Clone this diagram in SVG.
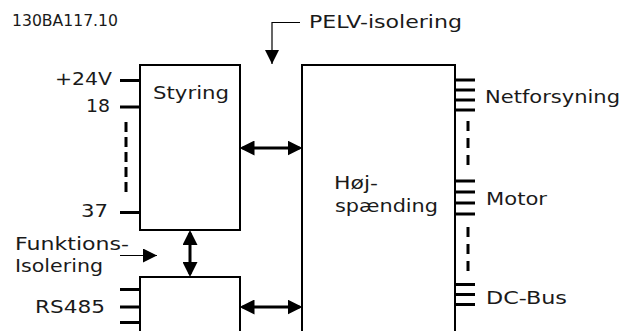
<svg xmlns="http://www.w3.org/2000/svg" width="623" height="331" viewBox="0 0 623 331">
<style>
  text { font-family: "DejaVu Sans", Verdana, sans-serif; font-size: 17px; fill: #1a1a1a; }
  .small { font-size: 15px; }
  .box { fill: #fff; stroke: #000; stroke-width: 2; }
  .tick { stroke: #000; stroke-width: 3; fill: none; }
  .dash { stroke: #000; stroke-width: 3; fill: none; stroke-dasharray: 10 5; }
  .dash2 { stroke: #000; stroke-width: 3; fill: none; stroke-dasharray: 10 7; }
  .thick { stroke: #000; stroke-width: 3; fill: none; }
  .thin { stroke: #000; stroke-width: 1.2; fill: none; }
</style>
<defs>
  <marker id="ah" viewBox="0 0 10 10" refX="10" refY="5" markerWidth="14" markerHeight="14" markerUnits="userSpaceOnUse" orient="auto-start-reverse">
    <path d="M0,0 L10,5 L0,10 Z" fill="#000"/>
  </marker>
  <marker id="ahb" viewBox="0 0 10 10" refX="8" refY="5" markerWidth="15" markerHeight="15" markerUnits="userSpaceOnUse" orient="auto-start-reverse">
    <path d="M0,0 L10,5 L0,10 Z" fill="#000"/>
  </marker>
</defs>
<rect width="623" height="331" fill="#fff"/>
<text class="small" x="12" y="26" textLength="106" lengthAdjust="spacingAndGlyphs">130BA117.10</text>

<g id="styring">
  <rect class="box" x="140" y="65" width="100" height="165"/>
  <text x="153" y="99" textLength="76" lengthAdjust="spacingAndGlyphs">Styring</text>
  <line class="tick" x1="120" y1="80.5" x2="140" y2="80.5"/>
  <line class="tick" x1="120" y1="107" x2="140" y2="107"/>
  <line class="dash" x1="126" y1="122" x2="126" y2="194"/>
  <line class="tick" x1="120" y1="212.5" x2="140" y2="212.5"/>
  <text x="55" y="85" textLength="57" lengthAdjust="spacingAndGlyphs">+24V</text>
  <text x="86" y="112" textLength="24" lengthAdjust="spacingAndGlyphs">18</text>
  <text x="81" y="217" textLength="27" lengthAdjust="spacingAndGlyphs">37</text>
</g>

<g id="kommunikation">
  <rect class="box" x="140" y="277" width="100" height="70"/>
  <line class="tick" x1="120" y1="289.5" x2="140" y2="289.5"/>
  <line class="tick" x1="120" y1="307" x2="140" y2="307"/>
  <line class="tick" x1="120" y1="322.5" x2="140" y2="322.5"/>
  <text x="35" y="313" textLength="70" lengthAdjust="spacingAndGlyphs">RS485</text>
</g>

<g id="hoejspaending">
  <rect class="box" x="302" y="65" width="153" height="290"/>
  <text x="334" y="189" textLength="44" lengthAdjust="spacingAndGlyphs">Høj-</text>
  <text x="335" y="212" textLength="103" lengthAdjust="spacingAndGlyphs">spænding</text>
  <line class="tick" x1="455" y1="80" x2="475" y2="80"/>
  <line class="tick" x1="455" y1="90" x2="475" y2="90"/>
  <line class="tick" x1="455" y1="100" x2="475" y2="100"/>
  <line class="tick" x1="455" y1="110" x2="475" y2="110"/>
  <line class="dash2" x1="468" y1="121" x2="468" y2="167"/>
  <line class="tick" x1="455" y1="181" x2="475" y2="181"/>
  <line class="tick" x1="455" y1="192" x2="475" y2="192"/>
  <line class="tick" x1="455" y1="203" x2="475" y2="203"/>
  <line class="tick" x1="455" y1="214" x2="475" y2="214"/>
  <line class="dash2" x1="468" y1="227" x2="468" y2="274"/>
  <line class="tick" x1="455" y1="284.5" x2="475" y2="284.5"/>
  <line class="tick" x1="455" y1="294.5" x2="475" y2="294.5"/>
  <line class="tick" x1="455" y1="304.5" x2="475" y2="304.5"/>
  <text x="485" y="103" textLength="135" lengthAdjust="spacingAndGlyphs">Netforsyning</text>
  <text x="486" y="205" textLength="61" lengthAdjust="spacingAndGlyphs">Motor</text>
  <text x="486" y="304" textLength="81" lengthAdjust="spacingAndGlyphs">DC-Bus</text>
</g>

<g id="connectors">
  <line class="thick" x1="242.5" y1="148" x2="299.5" y2="148" marker-start="url(#ahb)" marker-end="url(#ahb)"/>
  <line class="thick" x1="242.5" y1="307" x2="299.5" y2="307" marker-start="url(#ahb)" marker-end="url(#ahb)"/>
  <line class="thick" x1="190" y1="233" x2="190" y2="274" marker-start="url(#ahb)" marker-end="url(#ahb)"/>
  <polyline class="thin" points="300,22.5 272,22.5 272,64" marker-end="url(#ah)"/>
  <line class="thin" x1="120" y1="255.5" x2="157" y2="255.5" marker-end="url(#ah)"/>
</g>

<g id="labels">
  <text x="309" y="28" textLength="153" lengthAdjust="spacingAndGlyphs">PELV-isolering</text>
  <text x="15" y="250" textLength="114" lengthAdjust="spacingAndGlyphs">Funktions-</text>
  <text x="15" y="272" textLength="88" lengthAdjust="spacingAndGlyphs">Isolering</text>
</g>
</svg>
